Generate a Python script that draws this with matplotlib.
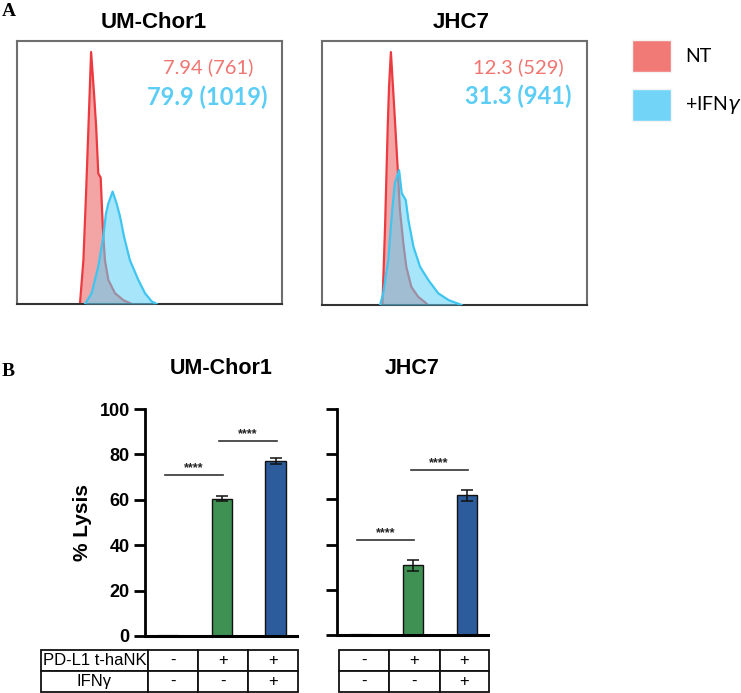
import matplotlib
matplotlib.use("Agg")
import matplotlib.pyplot as plt
from matplotlib.patches import Rectangle

W, H = 741, 693

# ---------------- data ----------------
# Panel A: flow histograms (relative fluorescence position, relative count)
chor_nt_x = [0.239, 0.252, 0.262, 0.271, 0.281, 0.292, 0.300, 0.308, 0.317, 0.325, 0.333, 0.346, 0.371, 0.402, 0.434]
chor_nt_y = [0.0, 0.167, 0.42, 0.673, 0.957, 0.80, 0.673, 0.496, 0.48, 0.294, 0.167, 0.091, 0.041, 0.015, 0.0]
chor_ifn_x = [0.258, 0.283, 0.308, 0.327, 0.337, 0.346, 0.362, 0.377, 0.390, 0.405, 0.427, 0.459, 0.484, 0.509, 0.528]
chor_ifn_y = [0.0, 0.041, 0.142, 0.256, 0.344, 0.382, 0.427, 0.382, 0.332, 0.256, 0.167, 0.091, 0.041, 0.010, 0.0]

jhc_nt_x = [0.228, 0.238, 0.248, 0.253, 0.260, 0.273, 0.286, 0.294, 0.307, 0.318, 0.337, 0.363, 0.389, 0.400]
jhc_nt_y = [0.0, 0.297, 0.675, 0.827, 0.958, 0.739, 0.511, 0.36, 0.234, 0.145, 0.069, 0.031, 0.010, 0.0]
jhc_ifn_x = [0.219, 0.231, 0.250, 0.265, 0.275, 0.291, 0.301, 0.316, 0.326, 0.345, 0.370, 0.401, 0.439, 0.477, 0.527]
jhc_ifn_y = [0.0, 0.044, 0.17, 0.36, 0.461, 0.511, 0.423, 0.398, 0.322, 0.221, 0.145, 0.095, 0.044, 0.019, 0.0]

cell_lines = ["UM-Chor1", "JHC7"]
nt_labels = ["7.94 (761)", "12.3 (529)"]
ifn_labels = ["79.9 (1019)", "31.3 (941)"]
legend_labels = ["NT", "+IFN$\\gamma$"]

# Panel B: % lysis
conditions = [0, 1, 2]
chor_lysis = [0.4, 60.5, 77.2]
chor_err = [0.0, 1.2, 1.4]
jhc_lysis = [0.4, 30.9, 61.8]
jhc_err = [0.0, 2.5, 2.4]
chor_sig = [(0, 1, 71), (1, 2, 86)]
jhc_sig = [(0, 1, 42), (1, 2, 73)]
yticks = [0, 20, 40, 60, 80, 100]
row_labels = ["PD-L1 t-haNK", "IFN\u03b3"]
pdl1_row = ["-", "+", "+"]
ifn_row = ["-", "-", "+"]

# ---------------- styling ----------------
RED_LINE = "#ec3b40"
RED_FILL = "#f08686"
BLUE_LINE = "#3fc6f0"
BLUE_FILL = "#5fd3f7"
NT_PATCH = "#f27a76"
IFN_PATCH = "#72d5f8"
NT_TEXT = "#f07470"
IFN_TEXT = "#5ccdf5"
GREEN = "#3e9152"
BLUE = "#2c5c9c"
bar_colors = ["#ffffff", GREEN, BLUE]
bar_edges = ["#999999", "#111111", "#111111"]

SANS = ["Lato", "DejaVu Sans"]
NARROW = ["Liberation Sans", "DejaVu Sans"]
SERIF = ["Liberation Serif", "DejaVu Serif"]

fig = plt.figure(figsize=(W / 100, H / 100), dpi=100)


def rect(l, r, t, b):
    return [l / W, 1 - b / H, (r - l) / W, (b - t) / H]


def fx(x):
    return x / W


def fy(y):
    return 1 - y / H


# ---------------- Panel A ----------------
hist_boxes = [(16.5, 282, 40.7, 304), (322, 587, 41, 305)]
hist_data = [(chor_nt_x, chor_nt_y, chor_ifn_x, chor_ifn_y),
             (jhc_nt_x, jhc_nt_y, jhc_ifn_x, jhc_ifn_y)]
nt_pos = [(0.891, 0.90), (0.913, 0.90)]
ifn_pos = [(0.947, 0.786), (0.943, 0.79)]
for i, box in enumerate(hist_boxes):
    ax = fig.add_axes(rect(*box))
    nx, ny, bx, by = hist_data[i]
    ax.fill_between(nx, ny, 0, color=RED_FILL, alpha=0.75, lw=0, zorder=1)
    ax.plot(nx, ny, color=RED_LINE, lw=1.6, zorder=2)
    ax.fill_between(bx, by, 0, color=BLUE_FILL, alpha=0.55, lw=0, zorder=3)
    ax.plot(bx, by, color=BLUE_LINE, lw=1.6, zorder=4)
    ax.set_xlim(0, 1)
    ax.set_ylim(0, 1)
    ax.set_xticks([])
    ax.set_yticks([])
    for s in ax.spines.values():
        s.set_color("#6e6e6e")
        s.set_linewidth(1.5)
    ax.spines["bottom"].set_color("#333333")
    ax.text(nt_pos[i][0], nt_pos[i][1], nt_labels[i], transform=ax.transAxes,
            ha="right", va="center", color=NT_TEXT, fontsize=14.5, family=SANS)
    ax.text(ifn_pos[i][0], ifn_pos[i][1], ifn_labels[i], transform=ax.transAxes,
            ha="right", va="center", color=IFN_TEXT, fontsize=17, fontweight="bold",
            family=SANS)

fig.text(fx(153.6), fy(23), cell_lines[0], ha="center", va="center", fontsize=16,
         fontweight="bold", family=NARROW)
fig.text(fx(461), fy(23), cell_lines[1], ha="center", va="center", fontsize=16,
         fontweight="bold", family=NARROW)
fig.text(fx(2), fy(12), "A", ha="left", va="center", fontsize=14, fontweight="bold",
         family=SERIF)

# legend
leg_patches = [(40, 72, NT_PATCH), (89, 121, IFN_PATCH)]
for (t, b, c), lab in zip(leg_patches, legend_labels):
    fig.patches.append(Rectangle((fx(632), fy(b)), (671 - 632) / W, (b - t) / H,
                                 transform=fig.transFigure, facecolor=c,
                                 edgecolor="#f4f4f4", lw=1))
    fig.text(fx(685), fy((t + b) / 2), lab, ha="left", va="center", fontsize=14,
             family=SANS)

# ---------------- Panel B ----------------
fig.text(fx(2), fy(372), "B", ha="left", va="center", fontsize=14, fontweight="bold",
         family=SERIF)
fig.text(fx(220.7), fy(368), cell_lines[0], ha="center", va="center", fontsize=15.5,
         fontweight="bold", family=NARROW)
fig.text(fx(412.6), fy(368), cell_lines[1], ha="center", va="center", fontsize=15.5,
         fontweight="bold", family=NARROW)

bar_boxes = [(145, 297, 409, 636), (337, 488, 409, 635)]
bar_data = [(chor_lysis, chor_err, chor_sig), (jhc_lysis, jhc_err, jhc_sig)]
for i, box in enumerate(bar_boxes):
    ax = fig.add_axes(rect(*box))
    vals, errs, sigs = bar_data[i]
    ax.bar(conditions, vals, width=0.38, color=bar_colors, edgecolor=bar_edges,
           linewidth=1.0, zorder=2)
    ax.errorbar(conditions[1:], vals[1:], yerr=errs[1:], fmt="none", ecolor="#111111",
                elinewidth=1.1, capsize=4, capthick=1.1, zorder=3)
    for a, b, h in sigs:
        ax.plot([a - 0.05, b + 0.02], [h, h], color="#333333", lw=1.2, zorder=3)
        ax.text((a + b) / 2 - 0.02, h + 0.2, "****", ha="center", va="bottom",
                fontsize=9, fontweight="bold", color="#222222", family=NARROW)
    ax.set_xlim(-0.43, 2.40)
    ax.set_ylim(0, 100)
    ax.set_yticks(yticks)
    ax.set_xticks([])
    for s in ("top", "right"):
        ax.spines[s].set_visible(False)
    ax.spines["left"].set_linewidth(2)
    ax.spines["bottom"].set_linewidth(2.2)
    ax.tick_params(axis="y", length=8, width=2, direction="out", pad=3)
    if i == 0:
        ax.set_yticklabels([str(v) for v in yticks], fontsize=13, fontweight="bold",
                           family=NARROW)
    else:
        ax.set_yticklabels([])

fig.text(fx(83), fy(522.5), "% Lysis", rotation=90, ha="center", va="center",
         fontsize=15, fontweight="bold", family=NARROW)

# tables
tab1 = fig.add_axes(rect(41, 298, 650, 692))
tab1.axis("off")
t1 = tab1.table(cellText=[[row_labels[0]] + pdl1_row, [row_labels[1]] + ifn_row],
                cellLoc="center", bbox=[0, 0, 1, 1],
                colWidths=[107 / 257, 49.5 / 257, 50.5 / 257, 50 / 257])
tab2 = fig.add_axes(rect(339, 489, 650, 692))
tab2.axis("off")
t2 = tab2.table(cellText=[pdl1_row, ifn_row], cellLoc="center", bbox=[0, 0, 1, 1],
                colWidths=[49.5 / 150, 51 / 150, 49.5 / 150])
for t in (t1, t2):
    t.auto_set_font_size(False)
    for (r, c), cell in t.get_celld().items():
        cell.set_linewidth(1.3)
        cell.set_edgecolor("#111111")
        cell.PAD = 0.02
        cell.get_text().set_fontsize(12)
        cell.get_text().set_family(NARROW)

fig.savefig("out.png", dpi=100)
